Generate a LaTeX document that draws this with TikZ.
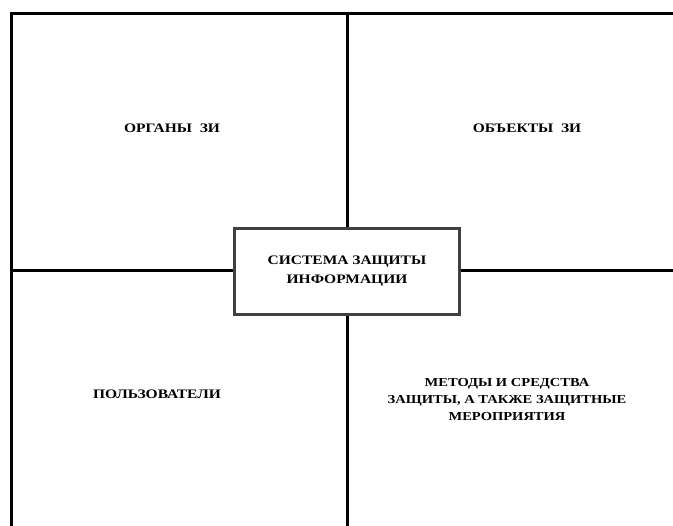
\documentclass[tikz,border=0pt]{standalone}
\usepackage{fontspec}
\setmainfont{Liberation Serif}
\newfontfamily\widefont[FakeStretch=1.19]{Liberation Serif}
\usepackage{xcolor}
\usetikzlibrary{positioning}
\definecolor{framex}{HTML}{000000}
\definecolor{boxgray}{HTML}{404040}
\tikzset{
  ln/.style={line width=3pt,framex},
  core/.style={draw=boxgray,line width=3pt,fill=white,align=center,minimum width=225pt,minimum height=86pt,font=\widefont\bfseries\fontsize{13}{19}\selectfont},
  lbl/.style={align=center,font=\widefont\bfseries\fontsize{13}{17}\selectfont}
}
\begin{document}
\begin{tikzpicture}[x=1pt,y=-1pt]
\useasboundingbox (0,0) rectangle (673,526);
% outer frame
\coordinate (tl) at (11.5,13.5);
\coordinate (tr) at (673,13.5);
\coordinate (bl) at (11.5,526);
\draw[ln] (tr)--(tl)--(bl);
% central box
\node[core] (sys) at (347,271.5) {СИСТЕМА ЗАЩИТЫ\\ИНФОРМАЦИИ};
\coordinate (top) at (347.5,13.5);
\coordinate (bot) at (347.5,526);
\coordinate (lft) at (11.5,271);
\coordinate (rgt) at (673,271);
\draw[ln] (top)--(top|-sys.north);
\draw[ln] (bot|-sys.south)--(bot);
\draw[ln] (lft)--(lft-|sys.west);
\draw[ln] (rgt-|sys.east)--(rgt);
% quadrants
\node[lbl] (org) at (172,128) {ОРГАНЫ\ \ ЗИ};
\node[lbl] (obj) at (527,128) {ОБЪЕКТЫ\ \ ЗИ};
\node[lbl] (usr) at (157,394) {ПОЛЬЗОВАТЕЛИ};
\node[lbl,font=\widefont\bfseries\fontsize{12.2}{17}\selectfont] (met) at (507,400) {МЕТОДЫ И СРЕДСТВА\\ЗАЩИТЫ, А ТАКЖЕ ЗАЩИТНЫЕ\\МЕРОПРИЯТИЯ};
\end{tikzpicture}
\end{document}
